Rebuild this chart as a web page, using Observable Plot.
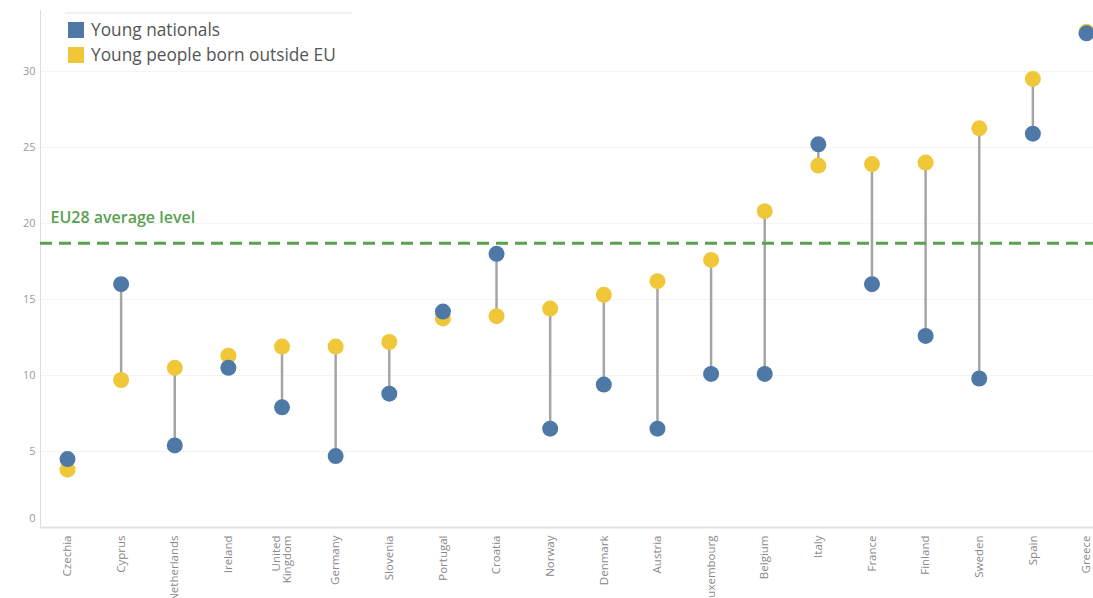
<!DOCTYPE html>
<html><head><meta charset="utf-8">
<script src="https://cdn.jsdelivr.net/npm/d3@7"></script>
<script src="https://cdn.jsdelivr.net/npm/@observablehq/plot@0.6"></script>
<style>
body{margin:0;background:#fff;font-family:"Open Sans",sans-serif}
#wrap{position:relative;width:1093px;height:598px;overflow:hidden}
#legend{position:absolute;left:65px;top:12px;width:287px;border-top:2px solid #f0f0f0;padding-top:3px}
.item{display:flex;align-items:center;height:25px;font-size:17.3px;color:#555}
.sw{width:16px;height:16px;margin-left:3px;margin-right:7px}
</style></head><body>
<div id="wrap"><div id="chart"></div>
<div id="legend">
<div class="item"><div class="sw" style="background:#4e79a7"></div>Young nationals</div>
<div class="item"><div class="sw" style="background:#f1c73a"></div>Young people born outside EU</div>
</div></div>
<script>
const countries=["Czechia","Cyprus","Netherlands","Ireland","United Kingdom","Germany","Slovenia","Portugal","Croatia","Norway","Denmark","Austria","Luxembourg","Belgium","Italy","France","Finland","Sweden","Spain","Greece"];
const nationals=[4.5,16.0,5.4,10.5,7.9,4.7,8.8,14.2,18.0,6.5,9.4,6.5,10.1,10.1,25.2,16.0,12.6,9.8,25.9,32.5];
const outsideEU=[3.8,9.7,10.5,11.3,11.9,11.9,12.2,13.75,13.9,14.4,15.3,16.2,17.6,20.8,23.8,23.9,24.0,26.25,29.5,32.6];
const eu28Average=18.7;
const yTicks=[0,5,10,15,20,25,30];
const avgLabel="EU28 average level";

const rows=countries.map((c,i)=>({country:c,nat:nationals[i],out:outsideEU[i]}));

const chart=Plot.plot({
  width:1093,height:598,
  marginLeft:40,marginRight:0,marginTop:10,marginBottom:71,
  style:{fontFamily:"Open Sans, sans-serif",fontSize:"11.5px",color:"#999",background:"#fff"},
  x:{type:"point",domain:countries,range:[67,1086],padding:0,round:false},
  y:{domain:[0,34]},
  marks:[
    Plot.gridY(yTicks.filter(t=>t>0),{stroke:"#000",strokeOpacity:0.05}),
    Plot.frame({anchor:"left",stroke:"#ddd"}),
    Plot.ruleY([0],{stroke:"#e2e2e2",strokeWidth:2}),
    Plot.ruleX(rows,{x:"country",y1:"nat",y2:"out",stroke:"#a5a5a5",strokeWidth:2.5}),
    Plot.ruleY([eu28Average],{stroke:"#59a14f",strokeWidth:3,strokeDasharray:"12,7"}),
    Plot.text([avgLabel],{y:20.35,frameAnchor:"left",dx:10,textAnchor:"start",text:d=>d,fill:"#59a14f",fontSize:16,fontWeight:600}),
    Plot.dot(rows,{x:"country",y:"out",r:8,fill:"#f1c73a"}),
    Plot.dot(rows,{x:"country",y:"nat",r:8,fill:"#4e79a7"}),
    Plot.axisY(yTicks.filter(t=>t>0),{tickSize:0,tickPadding:5,fill:"#999",fontSize:11,label:null}),
    Plot.axisY([0],{tickSize:0,tickPadding:5,fill:"#999",fontSize:11,label:null,dy:-9}),
    Plot.axisX({tickSize:0,tickPadding:8,tickRotate:-90,fill:"#888",label:null,
      tickFormat:d=>d==="United Kingdom"?"United\nKingdom":d})
  ]
});
document.getElementById("chart").appendChild(chart);
</script>
</body></html>
